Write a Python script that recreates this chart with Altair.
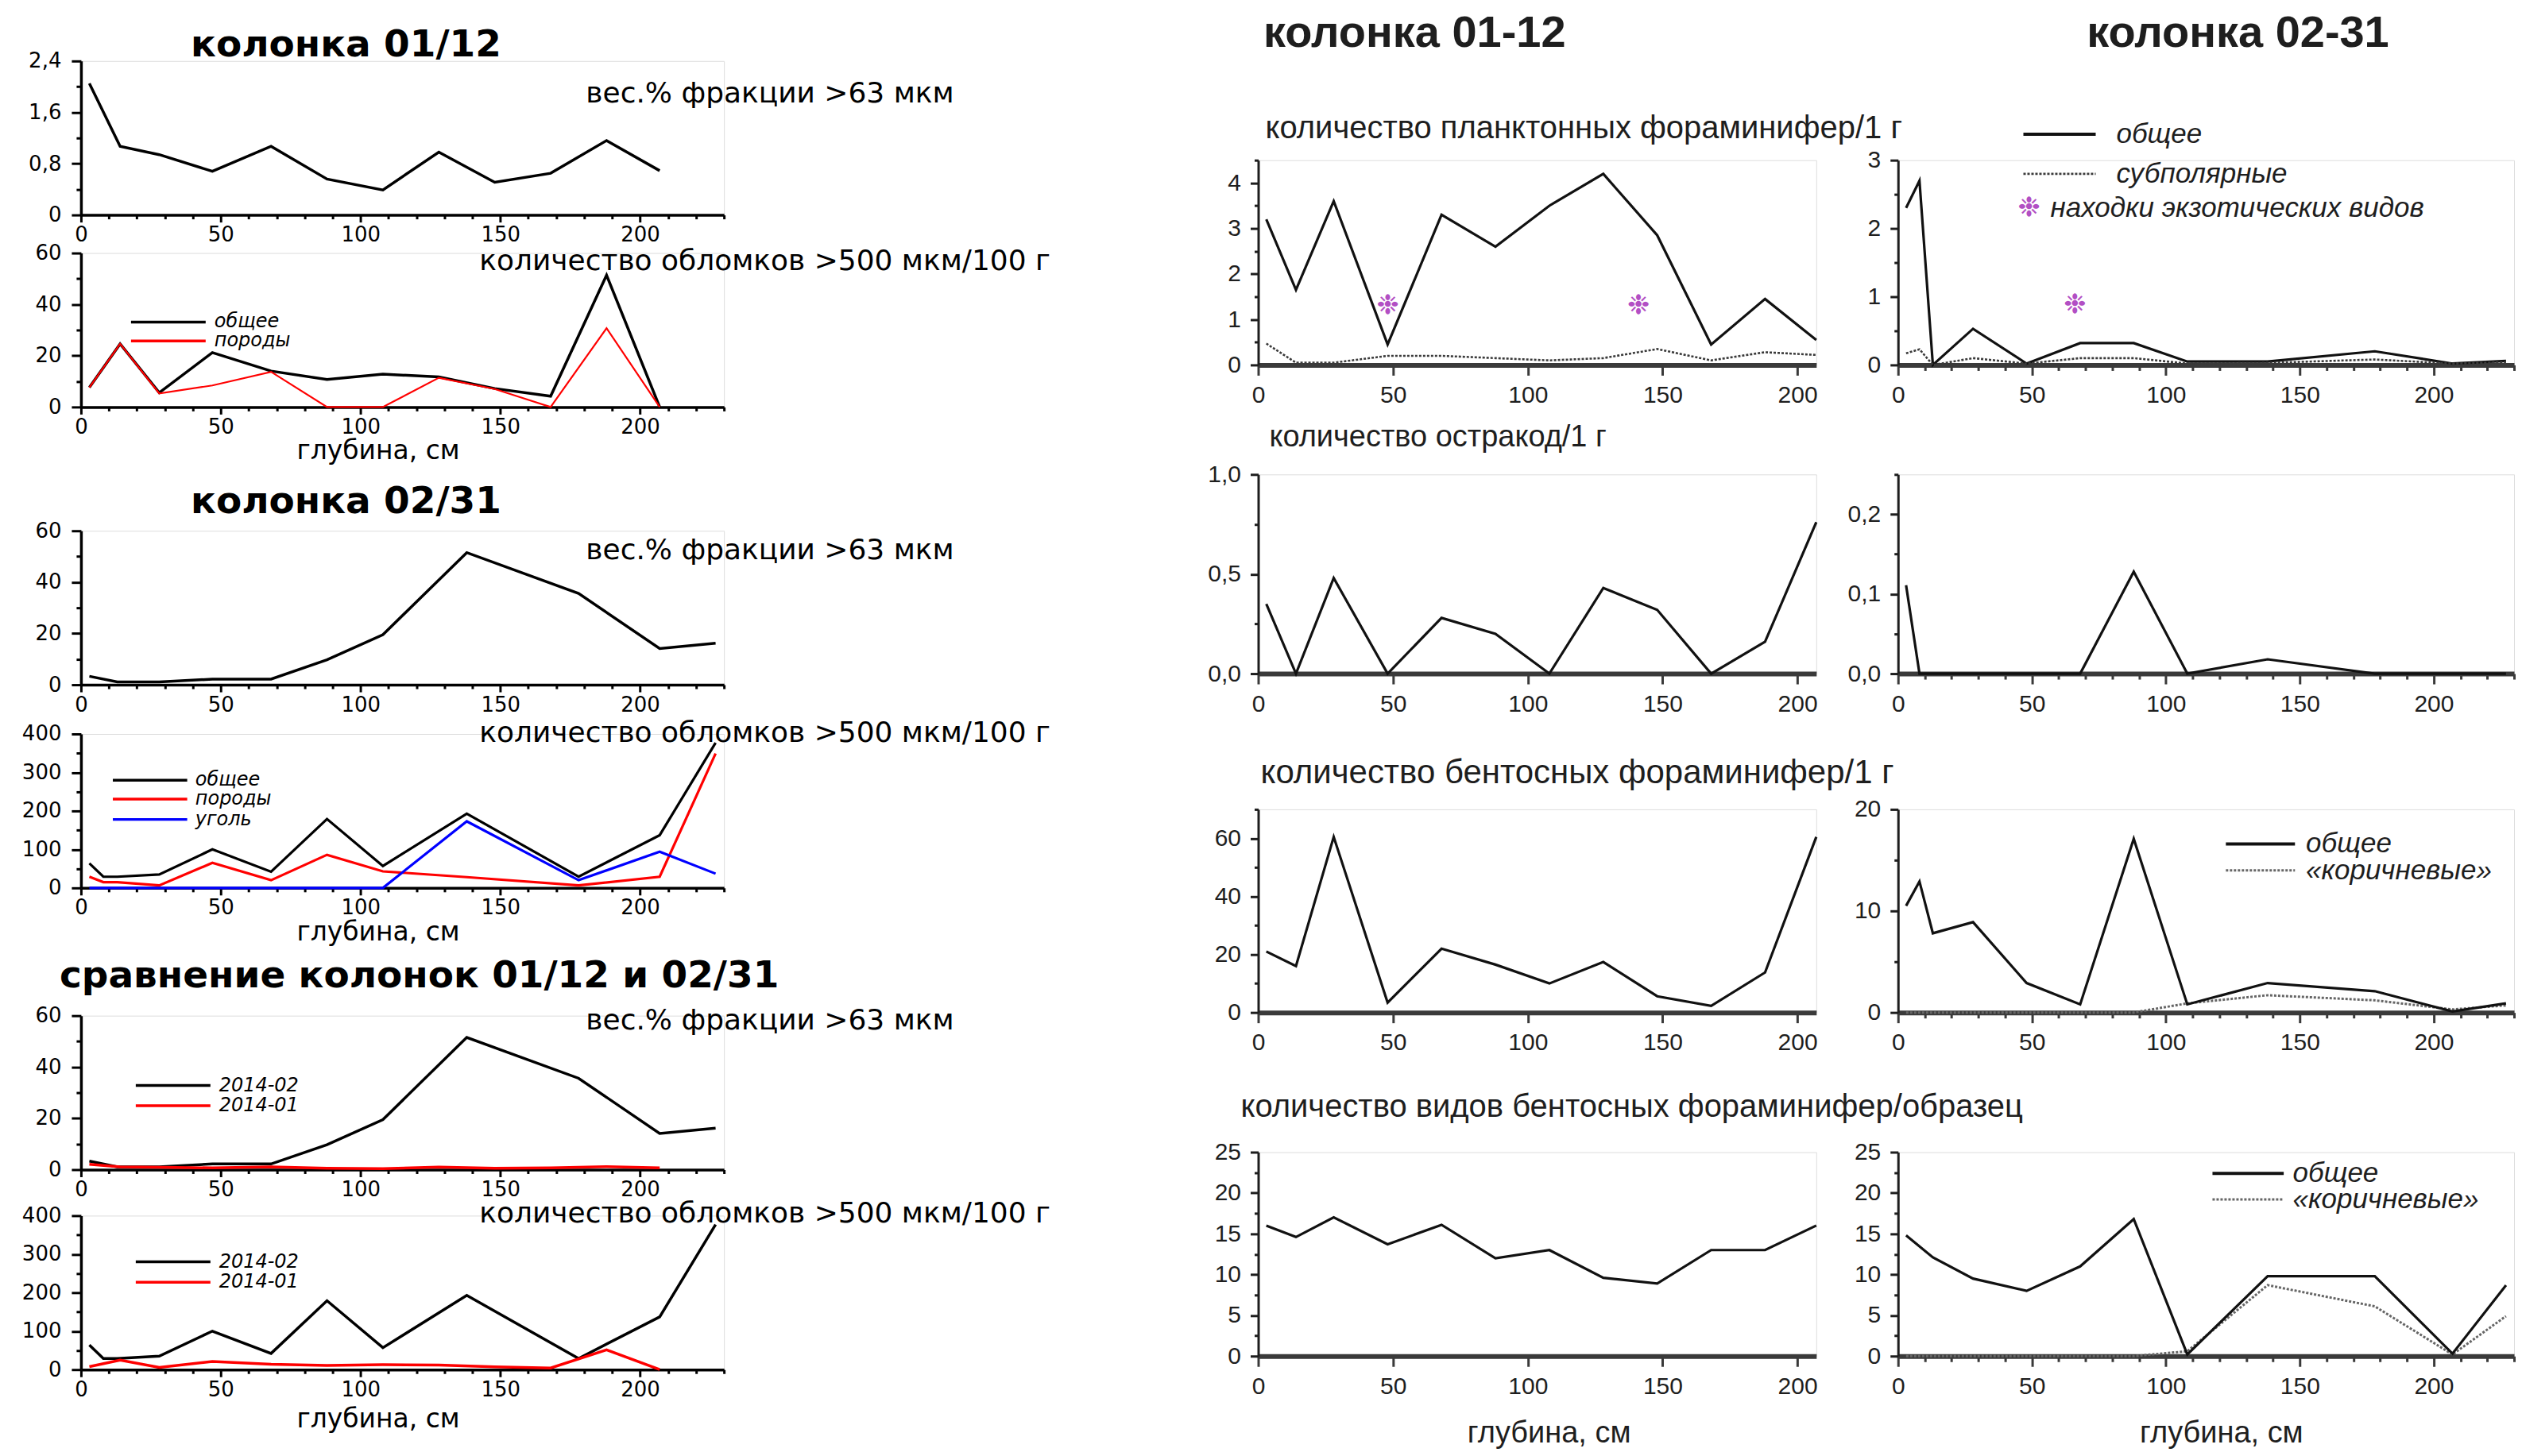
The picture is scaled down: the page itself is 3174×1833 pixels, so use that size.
import altair as alt
import pandas as pd

# ================= DATA =================
# ---- left block: sediment fractions ----
c0112_depth = [3, 14, 28, 47, 68, 88, 108, 128, 148, 168, 188, 207]
c0112_wt = [2.05, 1.07, 0.94, 0.68, 1.07, 0.56, 0.39, 0.98, 0.51, 0.65, 1.16, 0.69]
c0112_clast_total = [7.6, 24.6, 5.6, 21.2, 14.0, 10.7, 12.8, 11.7, 7.2, 4.2, 51.4, 0.0]
c0112_clast_rock = [7.6, 24.6, 5.3, 8.4, 13.7, 0.0, 0.0, 11.4, 7.0, 0.0, 30.7, 0.0]

c0231_wt_depth = [3, 13, 28, 47, 68, 88, 108, 138, 178, 207, 227]
c0231_wt = [3.3, 1.1, 1.1, 2.2, 2.2, 9.7, 19.5, 51.5, 35.6, 14.1, 16.2]
c0231_clast_depth = [3, 8, 13, 28, 47, 68, 88, 108, 138, 178, 207, 227]
c0231_clast_total = [64, 29, 29, 35, 100, 42, 179, 57, 193, 29, 137, 377]
c0231_clast_rock = [29, 15, 15, 6.5, 65, 20, 86, 43, 28, 6.5, 29, 349]
c0231_clast_coal = [0, 0, 0, 0, 0, 0, 0, 0, 173, 20, 94, 37]

# ---- right block: microfossils ----
r0112_depth = [3, 14, 28, 48, 68, 88, 108, 128, 148, 168, 188, 207]
plank_0112_total = [3.2, 1.65, 3.6, 0.45, 3.3, 2.6, 3.5, 4.2, 2.85, 0.45, 1.45, 0.55]
plank_0112_subpolar = [0.47, 0.05, 0.05, 0.2, 0.2, 0.15, 0.1, 0.15, 0.35, 0.1, 0.28, 0.22]
ostr_0112 = [0.35, 0.0, 0.48, 0.0, 0.28, 0.2, 0.0, 0.43, 0.32, 0.0, 0.16, 0.76]
benth_0112 = [21, 16, 60.5, 3.4, 22, 16.5, 10, 17.4, 5.6, 2.3, 13.8, 60.5]
species_0112 = [16, 14.6, 17, 13.7, 16.1, 12, 13, 9.6, 8.9, 13, 13, 16]
exotic_0112_depth = [48, 141]
exotic_0112_value = [1.3, 1.3]

r0231_depth = [3, 8, 13, 28, 48, 68, 88, 108, 138, 178, 207, 227]
plank_0231_total = [2.3, 2.7, 0.0, 0.53, 0.02, 0.32, 0.32, 0.05, 0.05, 0.2, 0.02, 0.06]
plank_0231_subpolar = [0.17, 0.23, 0.0, 0.1, 0.02, 0.1, 0.1, 0.02, 0.03, 0.08, 0.02, 0.04]
ostr_0231 = [0.111, 0, 0, 0, 0, 0, 0.128, 0, 0.018, 0, 0, 0]
benth_0231_total = [10.5, 12.9, 7.8, 8.9, 2.9, 0.8, 17.1, 0.8, 2.9, 2.1, 0.1, 0.9]
benth_0231_brown = [0, 0, 0, 0, 0, 0, 0, 0.9, 1.7, 1.2, 0.3, 0.7]
species_0231_depth = [3, 13, 28, 48, 68, 88, 108, 138, 178, 207, 227]
species_0231_total = [14.8, 12.1, 9.5, 8.0, 11.0, 16.8, 0.2, 9.8, 9.8, 0.3, 8.7]
species_0231_brown = [0, 0, 0, 0, 0, 0, 0.6, 8.7, 6.1, 0.2, 4.9]
exotic_0231_depth = [66]
exotic_0231_value = [0.88]

# ---- texts ----
depth_title = "глубина, см"
title_0112_left = "колонка 01/12"
title_0231_left = "колонка 02/31"
title_compare = "сравнение колонок 01/12 и 02/31"
wt_label = "вес.% фракции >63 мкм"
clast_label = "количество обломков >500 мкм/100 г"
leg_total = "общее"
leg_rock = "породы"
leg_coal = "уголь"
leg_2014_02 = "2014-02"
leg_2014_01 = "2014-01"
title_0112_right = "колонка 01-12"
title_0231_right = "колонка 02-31"
plank_label = "количество планктонных фораминифер/1 г"
ostr_label = "количество остракод/1 г"
benth_label = "количество бентосных фораминифер/1 г"
species_label = "количество видов бентосных фораминифер/образец"
leg_subpolar = "субполярные"
leg_exotic = "находки экзотических видов"
leg_brown = "«коричневые»"
exotic_symbol = "❉"

# ================= STYLE =================
LF = "DejaVu Sans"
RF = "Liberation Sans"
RC = "#1e1e1e"
PURPLE = "#b24fc4"


def rng(start, stop, step):
    n = int(round((stop - start) / step))
    return [round(start + i * step, 6) for i in range(n + 1)]


def fmt_expr(kind):
    if kind == "int":
        return "format(datum.value, 'd')"
    if kind == "dec":
        return "replace(format(datum.value, '.1f'), '.', ',')"
    return "(datum.value == 0 ? '0' : replace(format(datum.value, '.1f'), '.', ','))"


def make_axis(values, step, kind, font, size, color, major, minor, dwidth, dcolor,
              twidth, lpad, title=None, tsize=None, tx=None, ty=None):
    test = f"abs(datum.value / {step} - round(datum.value / {step})) < 0.000001"
    kw = dict(values=values, grid=False,
              labelExpr=f"({test}) ? {fmt_expr(kind)} : ''",
              labelFont=font, labelFontSize=size, labelColor=color, labelPadding=lpad,
              labelFlush=False, labelOverlap=False, labelBound=False,
              tickSize={"condition": {"test": test, "value": major}, "value": minor},
              tickWidth=twidth, tickColor=dcolor, domainWidth=dwidth, domainColor=dcolor)
    if title is None:
        kw["title"] = None
    else:
        kw.update(title=title, titleFont=font, titleFontSize=tsize, titleFontWeight="normal",
                  titleColor=color, titleBaseline="middle", titleAlign="center",
                  titleX=tx, titleY=ty)
    return alt.Axis(**kw)


def lx(ty=None):
    return make_axis(rng(0, 230, 10), 50, "int", LF, 26, "black", 9, 5, 3.5, "black", 3, 3,
                     title=depth_title if ty else None, tsize=33, tx=374, ty=ty)


def ly(values, step, kind="int"):
    return make_axis(values, step, kind, LF, 26, "black", 12, 6, 3.5, "black", 3, 13)


def rlx(ty=None):
    return make_axis(rng(0, 200, 50), 50, "int", RF, 30, RC, 13, 13, 6, "#3a3a3a", 3, 10,
                     title=depth_title if ty else None, tsize=38, tx=366, ty=ty)


def rrx(ty=None):
    return make_axis(rng(0, 230, 10), 50, "int", RF, 30, RC, 13, 7, 6, "#3a3a3a", 3, 10,
                     title=depth_title if ty else None, tsize=38, tx=407, ty=ty)


def ry(values, step, kind="int"):
    return make_axis(values, step, kind, RF, 30, RC, 10, 5, 3, RC, 3, 12)


def panel(w, h, xdom, ydom, xaxis, yaxis, series, texts=(), rules=(), marks=()):
    xs = alt.Scale(domain=xdom, nice=False, zero=False)
    ys = alt.Scale(domain=ydom, nice=False, zero=False)
    layers = []
    for depth, vals, style in series:
        df = pd.DataFrame({"depth": depth, "value": vals})
        layers.append(alt.Chart(df).mark_line(**style).encode(
            x=alt.X("depth:Q", scale=xs, axis=xaxis),
            y=alt.Y("value:Q", scale=ys, axis=yaxis)))
    for depth, vals, sym, style in marks:
        df = pd.DataFrame({"depth": depth, "value": vals})
        layers.append(alt.Chart(df).mark_text(text=sym, **style).encode(
            x=alt.X("depth:Q", scale=xs, axis=xaxis),
            y=alt.Y("value:Q", scale=ys, axis=yaxis)))
    for x1, x2, y, style in rules:
        layers.append(alt.Chart(pd.DataFrame({"k": [0]})).mark_rule(**style).encode(
            x=alt.XDatum(x1, scale=xs, axis=xaxis, type="quantitative"),
            x2=alt.X2Datum(x2),
            y=alt.YDatum(y, scale=ys, axis=yaxis, type="quantitative")))
    for txt, x, y, style in texts:
        layers.append(alt.Chart(pd.DataFrame({"label": [txt]})).mark_text(**style).encode(
            x=alt.XDatum(x, scale=xs, axis=xaxis, type="quantitative"),
            y=alt.YDatum(y, scale=ys, axis=yaxis, type="quantitative"),
            text="label:N"))
    return alt.layer(*layers).properties(width=w, height=h)


def spacer(h):
    return alt.Chart(pd.DataFrame({"s": [0]})).mark_point(opacity=0).properties(width=1, height=h)


BLK = dict(color="black", strokeWidth=3.5)
RED = dict(color="#ff0000", strokeWidth=3.5)
RED_THIN = dict(color="#ff0000", strokeWidth=2.2)
BLUE = dict(color="#0000ff", strokeWidth=3.2)
R_SOLID = dict(color="#111111", strokeWidth=3.2)
R_DOT = dict(color="#3a3a3a", strokeWidth=2.6, strokeDash=[3, 2])
R_DOT_BROWN = dict(color="#666666", strokeWidth=3, strokeDash=[3, 2])

lt_title = dict(font=LF, fontSize=47, fontWeight="bold", align="center", baseline="middle", color="black")
lt_note = dict(font=LF, fontSize=36, align="left", baseline="middle", color="black")
lt_leg = dict(font=LF, fontSize=24, fontStyle="italic", align="left", baseline="middle", color="black")
rt_title = dict(font=RF, fontSize=56, fontWeight="bold", align="center", baseline="middle", color=RC)


def rt_note(size):
    return dict(font=RF, fontSize=size, align="left", baseline="middle", color=RC)


rt_leg = dict(font=RF, fontSize=35, fontStyle="italic", align="left", baseline="middle", color=RC)
ex_style = dict(font=LF, fontSize=34, color=PURPLE, align="center", baseline="middle")

LW, LH = 810, 194
RLW, RRW = 703, 776
RH = [258, 251, 256, 257]
LXD = [0, 230]
RLXD = [0, 207]
RRXD = [0, 230]

# ================= LEFT BLOCK =================
P1 = panel(LW, LH, LXD, [0, 2.4], lx(), ly(rng(0, 2.4, 0.4), 0.8, "dec0"),
           [(c0112_depth, c0112_wt, BLK)],
           texts=[(title_0112_left, 94.8, 2.65, lt_title), (wt_label, 180.6, 1.89, lt_note)])

P2 = panel(LW, LH, LXD, [0, 60], lx(55), ly(rng(0, 60, 10), 20),
           [(c0112_depth, c0112_clast_total, BLK), (c0112_depth, c0112_clast_rock, RED_THIN)],
           texts=[(clast_label, 142.5, 56.9, lt_note),
                  (leg_total, 47.7, 33.1, lt_leg), (leg_rock, 47.7, 25.7, lt_leg)],
           rules=[(17.9, 44.6, 33.1, BLK), (17.9, 44.6, 25.7, RED)])

P3 = panel(LW, LH, LXD, [0, 60], lx(), ly(rng(0, 60, 10), 20),
           [(c0231_wt_depth, c0231_wt, BLK)],
           texts=[(title_0231_left, 94.8, 71.1, lt_title), (wt_label, 180.6, 52.3, lt_note)])

P4 = panel(LW, LH, LXD, [0, 400], lx(56), ly(rng(0, 400, 50), 100),
           [(c0231_clast_depth, c0231_clast_total, dict(color="black", strokeWidth=3.2)),
            (c0231_clast_depth, c0231_clast_rock, dict(color="#ff0000", strokeWidth=3.2)),
            (c0231_clast_depth, c0231_clast_coal, BLUE)],
           texts=[(clast_label, 142.5, 402, lt_note),
                  (leg_total, 40.9, 280, lt_leg), (leg_rock, 40.9, 231, lt_leg),
                  (leg_coal, 40.9, 178, lt_leg)],
           rules=[(11.4, 38, 280, BLK), (11.4, 38, 231, RED), (11.4, 38, 178, BLUE)])

P5 = panel(LW, LH, LXD, [0, 60], lx(), ly(rng(0, 60, 10), 20),
           [(c0231_wt_depth, c0231_wt, BLK), (c0112_depth, c0112_wt, RED)],
           texts=[(title_compare, 121, 75.5, lt_title), (wt_label, 180.6, 58.1, lt_note),
                  (leg_2014_02, 49.4, 32.8, lt_leg), (leg_2014_01, 49.4, 24.9, lt_leg)],
           rules=[(19.6, 46.3, 32.8, BLK), (19.6, 46.3, 24.9, RED)])

P6 = panel(LW, LH, LXD, [0, 400], lx(62), ly(rng(0, 400, 50), 100),
           [(c0231_clast_depth, c0231_clast_total, BLK), (c0112_depth, c0112_clast_total, RED)],
           texts=[(clast_label, 142.5, 404, lt_note),
                  (leg_2014_02, 49.4, 280, lt_leg), (leg_2014_01, 49.4, 227, lt_leg)],
           rules=[(19.6, 46.3, 280, BLK), (19.6, 46.3, 227, RED)])

left = alt.vconcat(P1, spacer(48), P2, spacer(156), P3, spacer(62), P4, spacer(161),
                   P5, spacer(58), P6, spacing=0, bounds="flush")

# ================= RIGHT BLOCK =================
R1L = panel(RLW, RH[0], RLXD, [0, 4.5], rlx(), ry(rng(0, 4.5, 0.5), 1),
            [(r0112_depth, plank_0112_total, R_SOLID), (r0112_depth, plank_0112_subpolar, R_DOT)],
            texts=[(title_0112_right, 58.0, 7.29, rt_title), (plank_label, 2.65, 5.2, rt_note(40))],
            marks=[(exotic_0112_depth, exotic_0112_value, exotic_symbol, ex_style)])

R1R = panel(RRW, RH[0], RRXD, [0, 3], rrx(), ry(rng(0, 3, 0.5), 1),
            [(r0231_depth, plank_0231_total, R_SOLID), (r0231_depth, plank_0231_subpolar, R_DOT)],
            texts=[(title_0231_right, 126.9, 4.86, rt_title),
                   (leg_total, 81.5, 3.38, rt_leg), (leg_subpolar, 81.5, 2.80, rt_leg),
                   (exotic_symbol, 48.9, 2.30, ex_style), (leg_exotic, 56.9, 2.30, rt_leg)],
            rules=[(46.8, 73.8, 3.38, dict(color="#111111", strokeWidth=4)),
                   (46.8, 73.8, 2.80, R_DOT)],
            marks=[(exotic_0231_depth, exotic_0231_value, exotic_symbol, ex_style)])

R2L = panel(RLW, RH[1], RLXD, [0, 1.0], rlx(), ry(rng(0, 1.0, 0.25), 0.5, "dec"),
            [(r0112_depth, ostr_0112, R_SOLID)],
            texts=[(ostr_label, 4.1, 1.183, rt_note(38))])

R2R = panel(RRW, RH[1], RRXD, [0, 0.25], rrx(), ry(rng(0, 0.25, 0.05), 0.1, "dec"),
            [(r0231_depth, ostr_0231, R_SOLID)])

R3L = panel(RLW, RH[2], RLXD, [0, 70], rlx(), ry(rng(0, 70, 10), 20),
            [(r0112_depth, benth_0112, R_SOLID)],
            texts=[(benth_label, 0.9, 82.6, rt_note(42))])

R3R = panel(RRW, RH[2], RRXD, [0, 20], rrx(), ry(rng(0, 20, 5), 10),
            [(r0231_depth, benth_0231_brown, R_DOT_BROWN), (r0231_depth, benth_0231_total, R_SOLID)],
            texts=[(leg_total, 152.3, 16.6, rt_leg), (leg_brown, 152.3, 14.0, rt_leg)],
            rules=[(122.4, 148.2, 16.6, dict(color="#111111", strokeWidth=4)),
                   (122.4, 148.2, 14.0, R_DOT_BROWN)])

R4L = panel(RLW, RH[3], RLXD, [0, 25], rlx(97), ry(rng(0, 25, 2.5), 5),
            [(r0112_depth, species_0112, R_SOLID)],
            texts=[(species_label, -6.5, 30.5, rt_note(40))])

R4R = panel(RRW, RH[3], RRXD, [0, 25], rrx(97), ry(rng(0, 25, 2.5), 5),
            [(species_0231_depth, species_0231_brown, R_DOT_BROWN),
             (species_0231_depth, species_0231_total, R_SOLID)],
            texts=[(leg_total, 147.4, 22.4, rt_leg), (leg_brown, 147.4, 19.2, rt_leg)],
            rules=[(117.4, 144, 22.4, dict(color="#111111", strokeWidth=4)),
                   (117.4, 144, 19.2, R_DOT_BROWN)])

# nested concat groups count as zero-size under "flush" bounds, so the spacers
# carry the full vertical step (row height + gap) and the outer spacing the column width
rows = [alt.hconcat(a, b, spacing=103, bounds="flush")
        for a, b in [(R1L, R1R), (R2L, R2R), (R3L, R3R), (R4L, R4R)]]
right = alt.vconcat(spacer(125), rows[0], spacer(RH[0] + 138), rows[1], spacer(RH[1] + 171),
                    rows[2], spacer(RH[2] + 176), rows[3], spacing=0, bounds="flush")

chart = alt.hconcat(left, right, spacing=LW + 673, bounds="flush").properties(
    padding={"left": 18, "top": 4, "right": 0, "bottom": 0}
).configure_view(stroke=None).configure_axis(labelOverlap=False).configure(background="white")

chart.save("out.html", embed_options={"renderer": "svg", "actions": False})
